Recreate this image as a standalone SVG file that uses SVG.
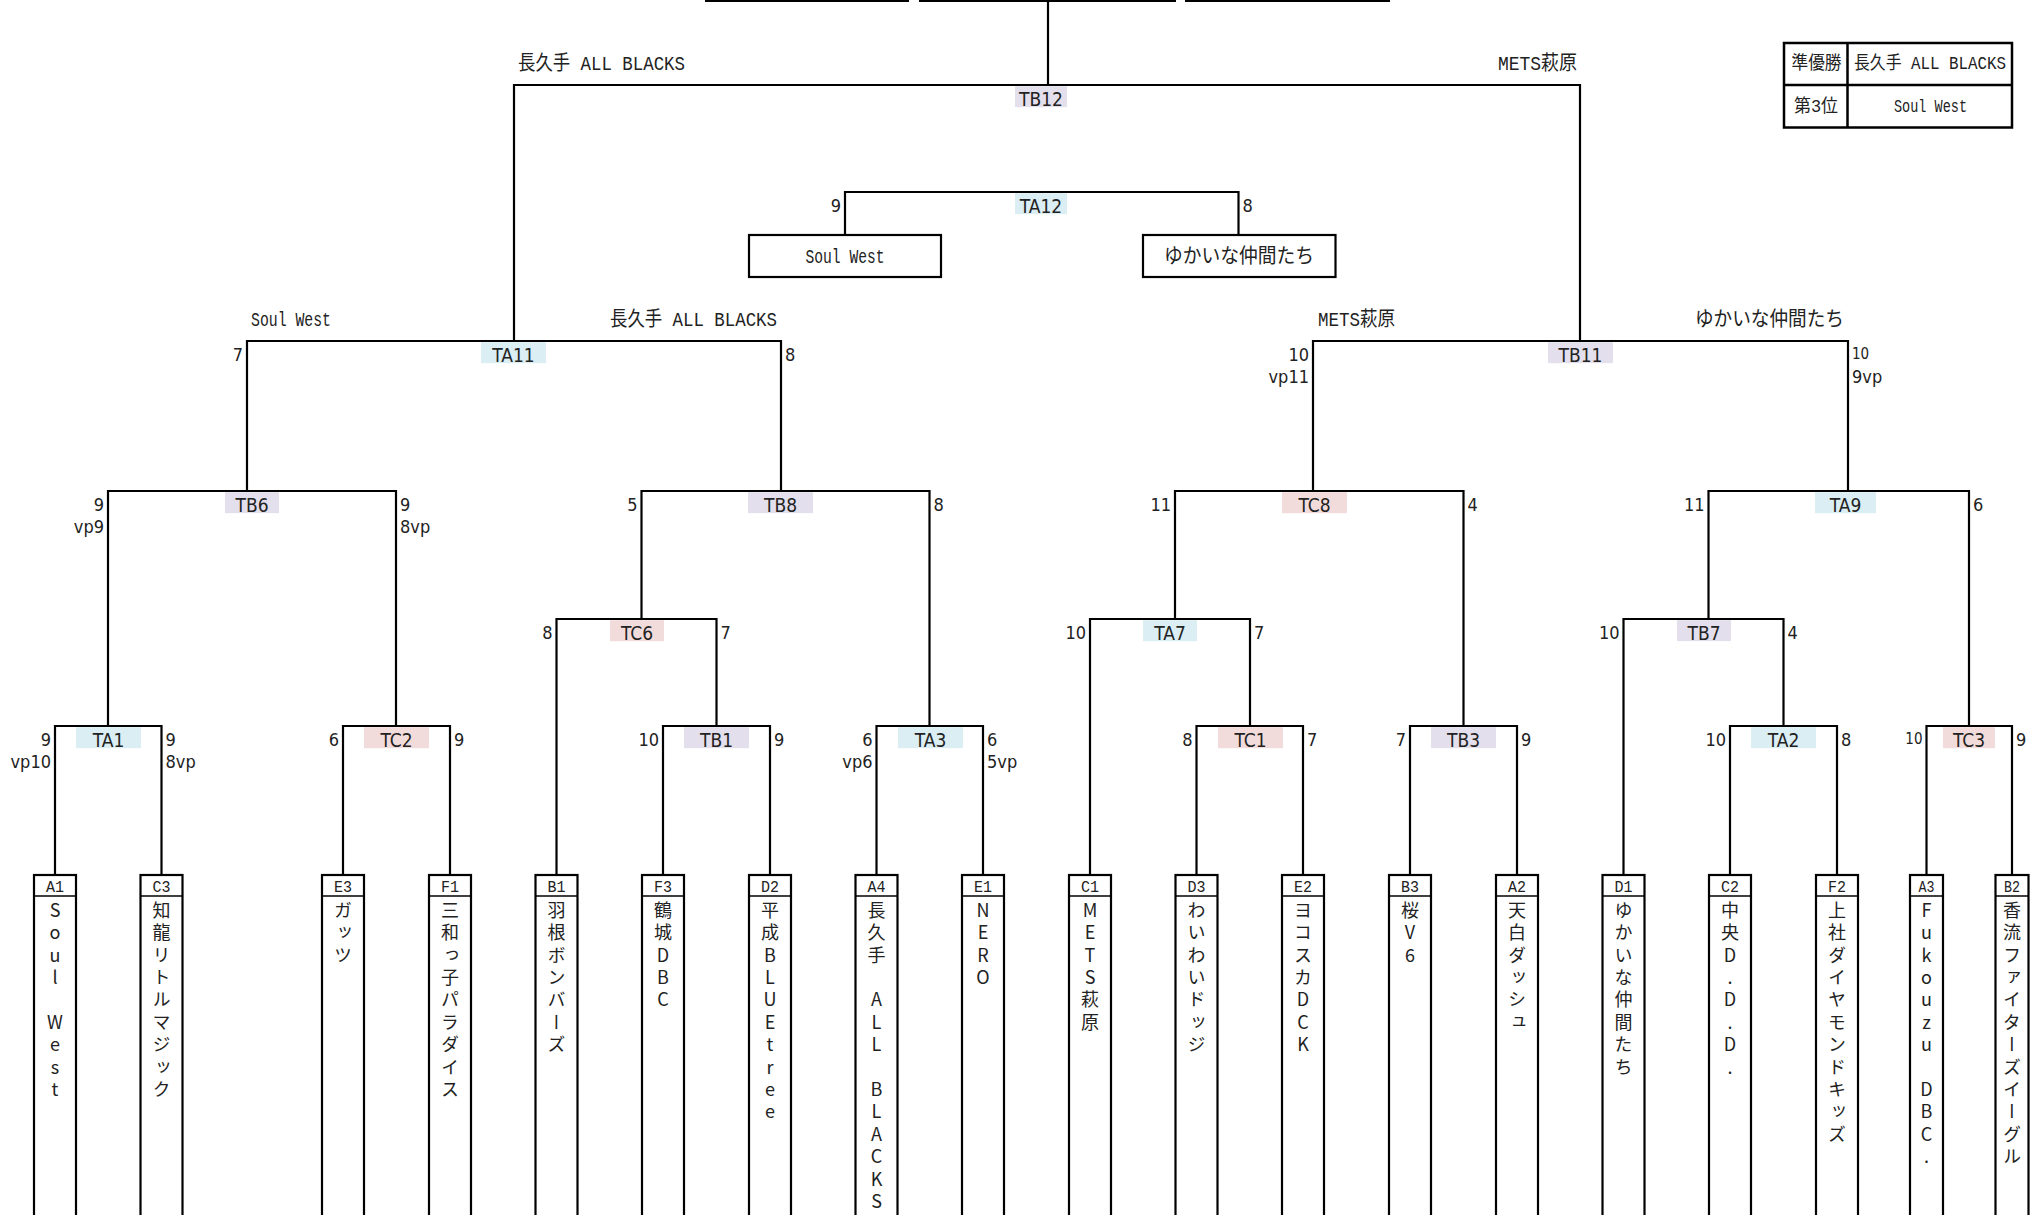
<svg xmlns="http://www.w3.org/2000/svg" width="2041" height="1215" viewBox="0 0 2041 1215">
<style>
.ln{fill:none;stroke:#000;stroke-width:2.2}
.bx{fill:#fff;stroke:#000;stroke-width:2.2}
.hd{stroke:#000;stroke-width:1.3}
.ta{fill:#DAEEF3}.tb{fill:#E4DFEC}.tc{fill:#F2DCDB}
.ml{font-family:"DejaVu Sans Condensed","DejaVu Sans",sans-serif;font-stretch:condensed;font-size:19px;fill:#222;text-anchor:middle}
.sc{font-family:"DejaVu Sans Condensed","DejaVu Sans",sans-serif;font-stretch:condensed;font-size:18px;fill:#222}
.l{text-anchor:end}.r{text-anchor:start}
.sm{font-size:15px}
.cn{font-family:"Liberation Mono","Noto Sans CJK JP",monospace;font-size:20px;fill:#222}
.tbl{font-size:18px}
.m{text-anchor:middle}.e{text-anchor:end}
.cd{font-family:"Liberation Mono",monospace;font-size:17px;fill:#222;text-anchor:middle}
.vt{font-family:"Noto Sans CJK JP",sans-serif;font-size:18px;fill:#222;writing-mode:vertical-rl;text-orientation:upright;text-anchor:middle}
</style>

<g id="connectors">
<path class="ln" d="M705,1 H909 M919,1 H1176 M1185,1 H1390"/>
<path class="ln" d="M1048,85 V0"/>
<path class="ln" d="M514,341 V85 H1580 V341"/>
<path class="ln" d="M845,235 V192 H1238.5 V235"/>
<path class="ln" d="M247,491 V341 H781 V491"/>
<path class="ln" d="M1313,491 V341 H1848 V491"/>
<path class="ln" d="M108,726 V491 H396 V726"/>
<path class="ln" d="M641.5,619 V491 H929.5 V726"/>
<path class="ln" d="M1175,619 V491 H1463.5 V726"/>
<path class="ln" d="M1708.5,619 V491 H1969 V726"/>
<path class="ln" d="M556.5,875 V619 H716.5 V726"/>
<path class="ln" d="M1090,875 V619 H1250 V726"/>
<path class="ln" d="M1623.5,875 V619 H1783.5 V726"/>
<path class="ln" d="M55,875 V726 H161.5 V875"/>
<path class="ln" d="M343,875 V726 H450 V875"/>
<path class="ln" d="M663,875 V726 H770 V875"/>
<path class="ln" d="M876.5,875 V726 H983 V875"/>
<path class="ln" d="M1196.5,875 V726 H1303 V875"/>
<path class="ln" d="M1410,875 V726 H1517 V875"/>
<path class="ln" d="M1730,875 V726 H1837 V875"/>
<path class="ln" d="M1926.5,875 V726 H2012 V875"/>
</g>

<g id="result-table">
<rect class="bx" x="1784" y="43" width="228" height="84.5" style="stroke-width:2.5"/>
<path class="ln" d="M1847.5,43 V127.5 M1784,85 H2012" style="stroke-width:2.5"/>
<text class="cn tbl m" x="1816.5" y="69" textLength="50" lengthAdjust="spacingAndGlyphs">準優勝</text>
<text class="cn tbl m" x="1930" y="69" textLength="152" lengthAdjust="spacingAndGlyphs">長久手 ALL BLACKS</text>
<text class="cn tbl m" x="1816" y="112" textLength="44" lengthAdjust="spacingAndGlyphs">第3位</text>
<text class="cn tbl m" x="1930.5" y="112" textLength="73" lengthAdjust="spacingAndGlyphs">Soul West</text>
</g>

<g id="match-TB12">
<rect class="tb" x="1015" y="86.2" width="52" height="21"/>
<text class="ml" x="1041" y="106">TB12</text>
<text class="cn" x="518" y="70" textLength="167" lengthAdjust="spacingAndGlyphs">長久手 ALL BLACKS</text>
<text class="cn e" x="1577" y="70" textLength="79" lengthAdjust="spacingAndGlyphs">METS萩原</text>
</g>

<g id="match-TA12">
<rect class="ta" x="1015" y="193.2" width="52" height="21"/>
<text class="ml" x="1041" y="213">TA12</text>
<text class="sc l" x="841" y="212">9</text>
<text class="sc r" x="1242.5" y="212">8</text>
</g>
<g id="final-left">
<rect class="bx" x="749" y="235" width="192" height="42"/>
<text class="cn m" x="845" y="263" textLength="79" lengthAdjust="spacingAndGlyphs">Soul West</text>
</g>
<g id="final-right">
<rect class="bx" x="1143" y="235" width="192.5" height="42"/>
<text class="cn m" x="1239" y="263" textLength="150" lengthAdjust="spacingAndGlyphs">ゆかいな仲間たち</text>
</g>

<g id="match-TA11">
<rect class="ta" x="481" y="342.2" width="65" height="21"/>
<text class="ml" x="513.5" y="362">TA11</text>
<text class="sc l" x="243" y="361">7</text>
<text class="sc r" x="785" y="361">8</text>
<text class="cn" x="251" y="326" textLength="80" lengthAdjust="spacingAndGlyphs">Soul West</text>
<text class="cn e" x="777" y="326" textLength="167" lengthAdjust="spacingAndGlyphs">長久手 ALL BLACKS</text>
</g>

<g id="match-TB11">
<rect class="tb" x="1548" y="342.2" width="65" height="21"/>
<text class="ml" x="1580.5" y="362">TB11</text>
<text class="sc l" x="1309" y="361">10</text>
<text class="sc l" x="1309" y="383">vp11</text>
<text class="sc r sm" x="1852" y="359">10</text>
<text class="sc r" x="1852" y="383">9vp</text>
<text class="cn" x="1318" y="326" textLength="77" lengthAdjust="spacingAndGlyphs">METS萩原</text>
<text class="cn e" x="1844" y="326" textLength="149" lengthAdjust="spacingAndGlyphs">ゆかいな仲間たち</text>
</g>

<g id="match-TB6">
<rect class="tb" x="225" y="492.2" width="54" height="21"/>
<text class="ml" x="252" y="512">TB6</text>
<text class="sc l" x="104" y="511">9</text>
<text class="sc l" x="104" y="533">vp9</text>
<text class="sc r" x="400" y="511">9</text>
<text class="sc r" x="400" y="533">8vp</text>
</g>
<g id="match-TB8">
<rect class="tb" x="748" y="492.2" width="65" height="21"/>
<text class="ml" x="780.5" y="512">TB8</text>
<text class="sc l" x="637.5" y="511">5</text>
<text class="sc r" x="933.5" y="511">8</text>
</g>
<g id="match-TC8">
<rect class="tc" x="1282" y="492.2" width="65" height="21"/>
<text class="ml" x="1314.5" y="512">TC8</text>
<text class="sc l" x="1171" y="511">11</text>
<text class="sc r" x="1467.5" y="511">4</text>
</g>
<g id="match-TA9">
<rect class="ta" x="1815" y="492.2" width="61" height="21"/>
<text class="ml" x="1845.5" y="512">TA9</text>
<text class="sc l" x="1704.5" y="511">11</text>
<text class="sc r" x="1973" y="511">6</text>
</g>

<g id="match-TC6">
<rect class="tc" x="610" y="620.2" width="54" height="21"/>
<text class="ml" x="637" y="640">TC6</text>
<text class="sc l" x="552.5" y="639">8</text>
<text class="sc r" x="720.5" y="639">7</text>
</g>
<g id="match-TA7">
<rect class="ta" x="1143" y="620.2" width="54" height="21"/>
<text class="ml" x="1170" y="640">TA7</text>
<text class="sc l" x="1086" y="639">10</text>
<text class="sc r" x="1254" y="639">7</text>
</g>
<g id="match-TB7">
<rect class="tb" x="1677" y="620.2" width="54" height="21"/>
<text class="ml" x="1704" y="640">TB7</text>
<text class="sc l" x="1619.5" y="639">10</text>
<text class="sc r" x="1787.5" y="639">4</text>
</g>

<g id="match-TA1">
<rect class="ta" x="76" y="727.2" width="65" height="21"/>
<text class="ml" x="108.5" y="747">TA1</text>
<text class="sc l" x="51" y="746">9</text>
<text class="sc l" x="51" y="768">vp10</text>
<text class="sc r" x="165.5" y="746">9</text>
<text class="sc r" x="165.5" y="768">8vp</text>
</g>
<g id="match-TC2">
<rect class="tc" x="364" y="727.2" width="65" height="21"/>
<text class="ml" x="396.5" y="747">TC2</text>
<text class="sc l" x="339" y="746">6</text>
<text class="sc r" x="454" y="746">9</text>
</g>
<g id="match-TB1">
<rect class="tb" x="684" y="727.2" width="65" height="21"/>
<text class="ml" x="716.5" y="747">TB1</text>
<text class="sc l" x="659" y="746">10</text>
<text class="sc r" x="774" y="746">9</text>
</g>
<g id="match-TA3">
<rect class="ta" x="898" y="727.2" width="65" height="21"/>
<text class="ml" x="930.5" y="747">TA3</text>
<text class="sc l" x="872.5" y="746">6</text>
<text class="sc l" x="872.5" y="768">vp6</text>
<text class="sc r" x="987" y="746">6</text>
<text class="sc r" x="987" y="768">5vp</text>
</g>
<g id="match-TC1">
<rect class="tc" x="1218" y="727.2" width="65" height="21"/>
<text class="ml" x="1250.5" y="747">TC1</text>
<text class="sc l" x="1192.5" y="746">8</text>
<text class="sc r" x="1307" y="746">7</text>
</g>
<g id="match-TB3">
<rect class="tb" x="1431" y="727.2" width="65" height="21"/>
<text class="ml" x="1463.5" y="747">TB3</text>
<text class="sc l" x="1406" y="746">7</text>
<text class="sc r" x="1521" y="746">9</text>
</g>
<g id="match-TA2">
<rect class="ta" x="1751" y="727.2" width="65" height="21"/>
<text class="ml" x="1783.5" y="747">TA2</text>
<text class="sc l" x="1726" y="746">10</text>
<text class="sc r" x="1841" y="746">8</text>
</g>
<g id="match-TC3">
<rect class="tc" x="1943" y="727.2" width="52" height="21"/>
<text class="ml" x="1969" y="747">TC3</text>
<text class="sc l sm" x="1922.5" y="744">10</text>
<text class="sc r" x="2016" y="746">9</text>
</g>

<g id="team-A1"><rect class="bx" x="34" y="875" width="42" height="360"/><line class="hd" x1="34" y1="896" x2="76" y2="896"/><text class="cd" x="55" y="892" textLength="18" lengthAdjust="spacingAndGlyphs">A1</text><text class="vt" x="55" y="910 932.4 954.8 977.2 999.6 1022 1044.4 1066.8 1089.2 1111.6 1134 1156.4 1178.8 1201.2">Soul West</text></g>
<g id="team-C3"><rect class="bx" x="140.5" y="875" width="42" height="360"/><line class="hd" x1="140.5" y1="896" x2="182.5" y2="896"/><text class="cd" x="161.5" y="892" textLength="18" lengthAdjust="spacingAndGlyphs">C3</text><text class="vt" x="161.5" y="910 932.4 954.8 977.2 999.6 1022 1044.4 1066.8 1089.2 1111.6 1134 1156.4 1178.8 1201.2">知龍リトルマジック</text></g>
<g id="team-E3"><rect class="bx" x="322" y="875" width="42" height="360"/><line class="hd" x1="322" y1="896" x2="364" y2="896"/><text class="cd" x="343" y="892" textLength="18" lengthAdjust="spacingAndGlyphs">E3</text><text class="vt" x="343" y="910 932.4 954.8 977.2 999.6 1022 1044.4 1066.8 1089.2 1111.6 1134 1156.4 1178.8 1201.2">ガッツ</text></g>
<g id="team-F1"><rect class="bx" x="429" y="875" width="42" height="360"/><line class="hd" x1="429" y1="896" x2="471" y2="896"/><text class="cd" x="450" y="892" textLength="18" lengthAdjust="spacingAndGlyphs">F1</text><text class="vt" x="450" y="910 932.4 954.8 977.2 999.6 1022 1044.4 1066.8 1089.2 1111.6 1134 1156.4 1178.8 1201.2">三和っ子パラダイス</text></g>
<g id="team-B1"><rect class="bx" x="535.5" y="875" width="42" height="360"/><line class="hd" x1="535.5" y1="896" x2="577.5" y2="896"/><text class="cd" x="556.5" y="892" textLength="18" lengthAdjust="spacingAndGlyphs">B1</text><text class="vt" x="556.5" y="910 932.4 954.8 977.2 999.6 1022 1044.4 1066.8 1089.2 1111.6 1134 1156.4 1178.8 1201.2">羽根ボンバーズ</text></g>
<g id="team-F3"><rect class="bx" x="642" y="875" width="42" height="360"/><line class="hd" x1="642" y1="896" x2="684" y2="896"/><text class="cd" x="663" y="892" textLength="18" lengthAdjust="spacingAndGlyphs">F3</text><text class="vt" x="663" y="910 932.4 954.8 977.2 999.6 1022 1044.4 1066.8 1089.2 1111.6 1134 1156.4 1178.8 1201.2">鶴城DBC</text></g>
<g id="team-D2"><rect class="bx" x="749" y="875" width="42" height="360"/><line class="hd" x1="749" y1="896" x2="791" y2="896"/><text class="cd" x="770" y="892" textLength="18" lengthAdjust="spacingAndGlyphs">D2</text><text class="vt" x="770" y="910 932.4 954.8 977.2 999.6 1022 1044.4 1066.8 1089.2 1111.6 1134 1156.4 1178.8 1201.2">平成BLUEtree</text></g>
<g id="team-A4"><rect class="bx" x="855.5" y="875" width="42" height="360"/><line class="hd" x1="855.5" y1="896" x2="897.5" y2="896"/><text class="cd" x="876.5" y="892" textLength="18" lengthAdjust="spacingAndGlyphs">A4</text><text class="vt" x="876.5" y="910 932.4 954.8 977.2 999.6 1022 1044.4 1066.8 1089.2 1111.6 1134 1156.4 1178.8 1201.2">長久手 ALL BLACKS</text></g>
<g id="team-E1"><rect class="bx" x="962" y="875" width="42" height="360"/><line class="hd" x1="962" y1="896" x2="1004" y2="896"/><text class="cd" x="983" y="892" textLength="18" lengthAdjust="spacingAndGlyphs">E1</text><text class="vt" x="983" y="910 932.4 954.8 977.2 999.6 1022 1044.4 1066.8 1089.2 1111.6 1134 1156.4 1178.8 1201.2">NERO</text></g>
<g id="team-C1"><rect class="bx" x="1069" y="875" width="42" height="360"/><line class="hd" x1="1069" y1="896" x2="1111" y2="896"/><text class="cd" x="1090" y="892" textLength="18" lengthAdjust="spacingAndGlyphs">C1</text><text class="vt" x="1090" y="910 932.4 954.8 977.2 999.6 1022 1044.4 1066.8 1089.2 1111.6 1134 1156.4 1178.8 1201.2">METS萩原</text></g>
<g id="team-D3"><rect class="bx" x="1175.5" y="875" width="42" height="360"/><line class="hd" x1="1175.5" y1="896" x2="1217.5" y2="896"/><text class="cd" x="1196.5" y="892" textLength="18" lengthAdjust="spacingAndGlyphs">D3</text><text class="vt" x="1196.5" y="910 932.4 954.8 977.2 999.6 1022 1044.4 1066.8 1089.2 1111.6 1134 1156.4 1178.8 1201.2">わいわいドッジ</text></g>
<g id="team-E2"><rect class="bx" x="1282" y="875" width="42" height="360"/><line class="hd" x1="1282" y1="896" x2="1324" y2="896"/><text class="cd" x="1303" y="892" textLength="18" lengthAdjust="spacingAndGlyphs">E2</text><text class="vt" x="1303" y="910 932.4 954.8 977.2 999.6 1022 1044.4 1066.8 1089.2 1111.6 1134 1156.4 1178.8 1201.2">ヨコスカDCK</text></g>
<g id="team-B3"><rect class="bx" x="1389" y="875" width="42" height="360"/><line class="hd" x1="1389" y1="896" x2="1431" y2="896"/><text class="cd" x="1410" y="892" textLength="18" lengthAdjust="spacingAndGlyphs">B3</text><text class="vt" x="1410" y="910 932.4 954.8 977.2 999.6 1022 1044.4 1066.8 1089.2 1111.6 1134 1156.4 1178.8 1201.2">桜V6</text></g>
<g id="team-A2"><rect class="bx" x="1496" y="875" width="42" height="360"/><line class="hd" x1="1496" y1="896" x2="1538" y2="896"/><text class="cd" x="1517" y="892" textLength="18" lengthAdjust="spacingAndGlyphs">A2</text><text class="vt" x="1517" y="910 932.4 954.8 977.2 999.6 1022 1044.4 1066.8 1089.2 1111.6 1134 1156.4 1178.8 1201.2">天白ダッシュ</text></g>
<g id="team-D1"><rect class="bx" x="1602.5" y="875" width="42" height="360"/><line class="hd" x1="1602.5" y1="896" x2="1644.5" y2="896"/><text class="cd" x="1623.5" y="892" textLength="18" lengthAdjust="spacingAndGlyphs">D1</text><text class="vt" x="1623.5" y="910 932.4 954.8 977.2 999.6 1022 1044.4 1066.8 1089.2 1111.6 1134 1156.4 1178.8 1201.2">ゆかいな仲間たち</text></g>
<g id="team-C2"><rect class="bx" x="1709" y="875" width="42" height="360"/><line class="hd" x1="1709" y1="896" x2="1751" y2="896"/><text class="cd" x="1730" y="892" textLength="18" lengthAdjust="spacingAndGlyphs">C2</text><text class="vt" x="1730" y="910 932.4 954.8 977.2 999.6 1022 1044.4 1066.8 1089.2 1111.6 1134 1156.4 1178.8 1201.2">中央D.D.D.</text></g>
<g id="team-F2"><rect class="bx" x="1816" y="875" width="42" height="360"/><line class="hd" x1="1816" y1="896" x2="1858" y2="896"/><text class="cd" x="1837" y="892" textLength="18" lengthAdjust="spacingAndGlyphs">F2</text><text class="vt" x="1837" y="910 932.4 954.8 977.2 999.6 1022 1044.4 1066.8 1089.2 1111.6 1134 1156.4 1178.8 1201.2">上社ダイヤモンドキッズ</text></g>
<g id="team-A3"><rect class="bx" x="1910" y="875" width="33" height="360"/><line class="hd" x1="1910" y1="896" x2="1943" y2="896"/><text class="cd" x="1926.5" y="892" textLength="16" lengthAdjust="spacingAndGlyphs">A3</text><text class="vt" x="1926.5" y="910 932.4 954.8 977.2 999.6 1022 1044.4 1066.8 1089.2 1111.6 1134 1156.4 1178.8 1201.2">Fukouzu DBC.</text></g>
<g id="team-B2"><rect class="bx" x="1995.5" y="875" width="33" height="360"/><line class="hd" x1="1995.5" y1="896" x2="2028.5" y2="896"/><text class="cd" x="2012" y="892" textLength="16" lengthAdjust="spacingAndGlyphs">B2</text><text class="vt" x="2012" y="910 932.4 954.8 977.2 999.6 1022 1044.4 1066.8 1089.2 1111.6 1134 1156.4 1178.8 1201.2">香流ファイターズイーグル</text></g>
</svg>
